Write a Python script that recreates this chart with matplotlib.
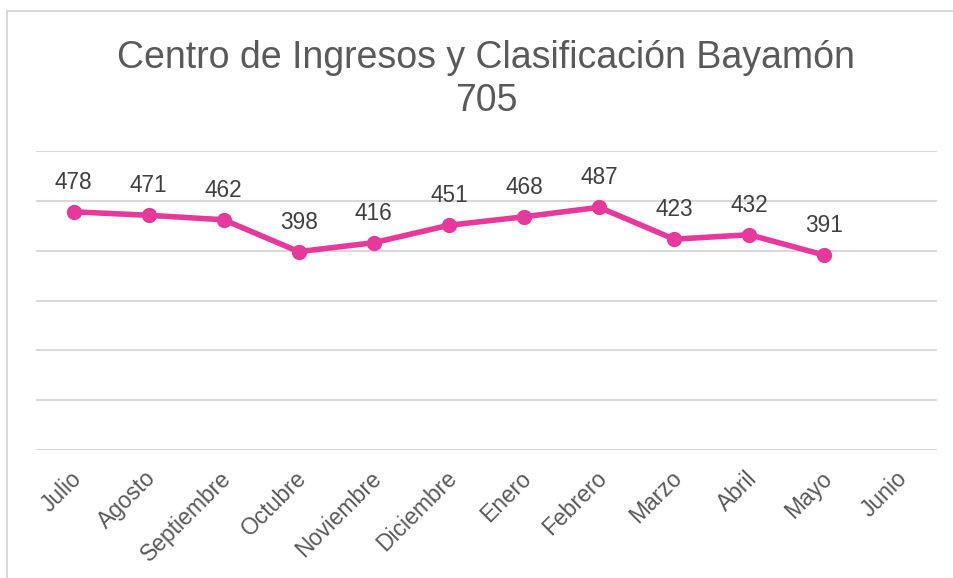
import matplotlib
matplotlib.use("Agg")
import matplotlib.pyplot as plt
from matplotlib.lines import Line2D
from matplotlib.transforms import ScaledTranslation

months = ["Julio", "Agosto", "Septiembre", "Octubre", "Noviembre", "Diciembre",
          "Enero", "Febrero", "Marzo", "Abril", "Mayo", "Junio"]
values = [478, 471, 462, 398, 416, 451, 468, 487, 423, 432, 391]
title = "Centro de Ingresos y Clasificación Bayamón\n705"

plt.rcParams['font.family'] = ['Liberation Sans', 'DejaVu Sans']

W, H = 954, 578
fig = plt.figure(figsize=(W / 100, H / 100), dpi=100)
fig.patch.set_facecolor("white")

# outer chart frame: only left and top edges visible
fr = dict(transform=fig.transFigure, color="#d9d9d9", linewidth=1.5)
fig.add_artist(Line2D([7.5 / W, 7.5 / W], [0, 1 - 11 / H], **fr))
fig.add_artist(Line2D([7.5 / W, 1.01], [1 - 11 / H, 1 - 11 / H], **fr))

ax = fig.add_axes([36 / W, (H - 450) / H, (937 - 36) / W, (450 - 151) / H])
ax.set_xlim(-0.5, len(months) - 0.5)
ax.set_ylim(0, 600)
ax.set_yticks(range(0, 601, 100))
ax.set_yticklabels([])
ax.tick_params(axis="y", length=0)
ax.grid(axis="y", color="#d9d9d9", linewidth=1.5)
ax.set_axisbelow(True)
for s in ax.spines.values():
    s.set_visible(False)

x = list(range(len(values)))
ax.plot(x, values, color="#E6399B", linewidth=4, marker="o", markersize=10,
        solid_capstyle="round", zorder=3)
for xi, v in zip(x, values):
    ax.annotate(str(v), (xi, v), xytext=(0, 23), textcoords="offset pixels",
                ha="center", va="baseline", fontsize=16.3, color="#404040")

ax.set_xticks(range(len(months)))
ax.set_xticklabels(months, rotation=45, ha="right", va="top",
                   rotation_mode="anchor", fontsize=16.5, color="#595959")
ax.tick_params(axis="x", length=0, pad=12)
shift = ScaledTranslation(-4 / 100, 0, fig.dpi_scale_trans)
for lbl in ax.get_xticklabels():
    lbl.set_transform(lbl.get_transform() + shift)

fig.text(486 / W, 1 - 40 / H, title, ha="center", va="top",
         fontsize=27, color="#595959", linespacing=1.25)

fig.savefig("out.png", dpi=100)
